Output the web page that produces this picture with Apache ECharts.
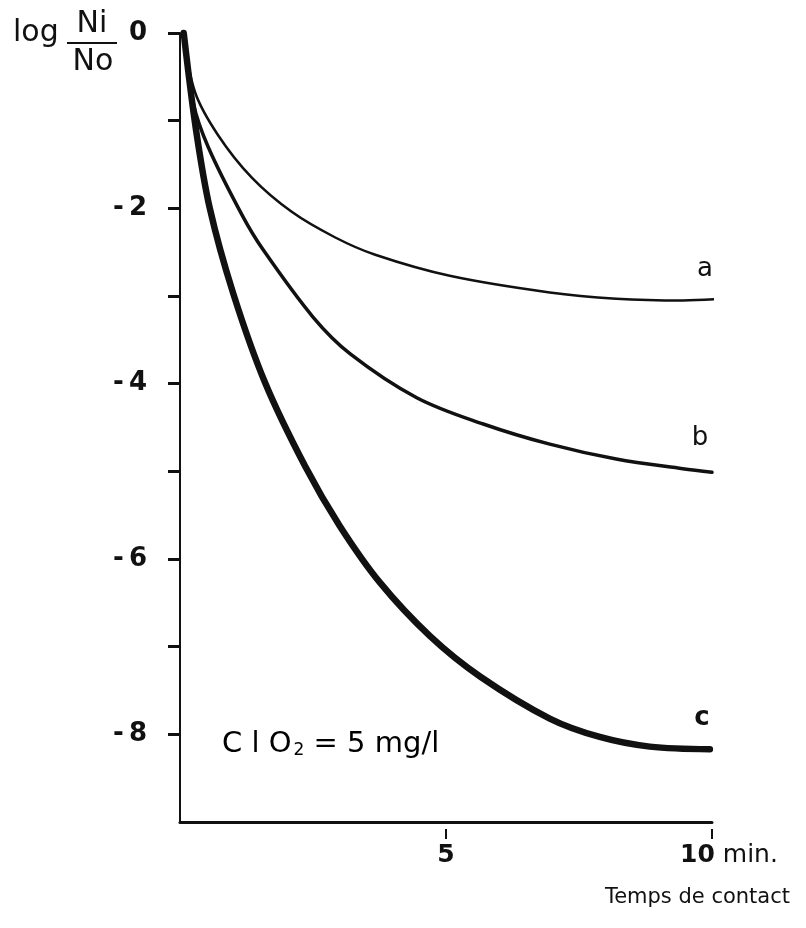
<!DOCTYPE html>
<html><head><meta charset="utf-8">
<script src="https://cdn.jsdelivr.net/npm/echarts@6/dist/echarts.min.js"></script>
<style>html,body{margin:0;padding:0;background:#fff}#c{width:806px;height:928px}</style>
</head><body><div id="c"></div>
<script>
// Contact time (min) and log(Ni/No)
const tA = [0.07, 0.28, 0.71, 1.35, 2.1, 2.91, 3.67, 5.07, 6.95, 8.2, 9.45, 10.28];
const vA = [0, -0.67, -1.16, -1.65, -2.04, -2.33, -2.53, -2.77, -2.96, -3.03, -3.05, -3.03];
const tB = [0.07, 0.25, 0.53, 1.17, 1.56, 2.5, 3.2, 4.45, 5.7, 6.95, 8.2, 9.45, 10.0];
const vB = [0, -0.8, -1.3, -2.08, -2.47, -3.24, -3.66, -4.16, -4.46, -4.69, -4.86, -4.97, -5.01];
const tC = [0.07, 0.3, 0.56, 1.0, 1.6, 2.35, 3.0, 3.76, 4.7, 5.64, 6.95, 7.89, 8.83, 9.96];
const vC = [0, -1.1, -2.0, -2.97, -3.99, -4.94, -5.62, -6.27, -6.88, -7.34, -7.82, -8.03, -8.14, -8.17];
const yTicks = [0, -1, -2, -3, -4, -5, -6, -7, -8];
const yLabels = [0, -2, -4, -6, -8];
const xLabels = [5, 10];
const curveNames = ['a', 'b', 'c'];

const pairs = (t, v) => t.map((x, i) => [x, v[i]]);
const FONT = '"DejaVu Sans", Arial, sans-serif';
const INK = '#111';

const chart = echarts.init(document.getElementById('c'), null, {renderer: 'canvas'});
chart.setOption({
  backgroundColor: '#fff',
  animation: false,
  grid: {left: 180, right: 94, top: 33, bottom: 106, outerBoundsMode: 'none', containLabel: false},
  xAxis: [{
    type: 'value', min: 0, max: 10,
    axisLine: {show: true, onZero: false, lineStyle: {color: INK, width: 3}},
    axisTick: {show: false},
    splitLine: {show: false},
    axisLabel: {
      customValues: xLabels, margin: 21, color: INK,
      formatter: v => v === 10 ? '{p|10}{r| min.}' : '{b|' + v + '}',
      rich: {
        b: {fontFamily: FONT, fontSize: 25, fontWeight: 'bold', color: INK},
        p: {fontFamily: FONT, fontSize: 25, fontWeight: 'bold', color: INK, padding: [0, 0, 0, 34]},
        r: {fontFamily: FONT, fontSize: 25, color: INK}
      }
    }
  }, {
    type: 'value', min: 0, max: 10, position: 'bottom', offset: 7,
    axisLine: {show: false, onZero: false},
    axisTick: {show: true, customValues: xLabels, length: 10, lineStyle: {color: INK, width: 2}},
    axisLabel: {show: false},
    splitLine: {show: false}
  }],
  yAxis: {
    type: 'value', min: -9, max: 0, interval: 1,
    axisLine: {show: true, lineStyle: {color: INK, width: 2}},
    axisTick: {show: true, customValues: yTicks, length: 12, lineStyle: {color: INK, width: 3}},
    splitLine: {show: false},
    axisLabel: {
      customValues: yLabels, margin: 33, color: INK,
      fontFamily: FONT, fontSize: 26, fontWeight: 'bold',
      formatter: v => v === 0 ? '0' : '-\u2009' + (-v)
    }
  },
  series: [
    {name: curveNames[0], type: 'line', data: pairs(tA, vA), smooth: 0.35, symbol: 'none', clip: false,
     lineStyle: {color: INK, width: 2.5, cap: 'round'}},
    {name: curveNames[1], type: 'line', data: pairs(tB, vB), smooth: 0.35, symbol: 'none', clip: false,
     lineStyle: {color: INK, width: 3.5, cap: 'round'}},
    {name: curveNames[2], type: 'line', data: pairs(tC, vC), smooth: 0.35, symbol: 'none', clip: false,
     lineStyle: {color: INK, width: 6.5, cap: 'round'}}
  ],
  graphic: [
    {type: 'text', x: 13, y: 33, style: {text: 'log', font: '30px ' + FONT, fill: INK, verticalAlign: 'middle'}},
    {type: 'text', x: 92, y: 24, style: {text: 'Ni', font: '30px ' + FONT, fill: INK, align: 'center', verticalAlign: 'middle'}},
    {type: 'line', shape: {x1: 67, y1: 43, x2: 117, y2: 43}, style: {stroke: INK, lineWidth: 2}},
    {type: 'text', x: 93, y: 62, style: {text: 'No', font: '30px ' + FONT, fill: INK, align: 'center', verticalAlign: 'middle'}},
    {type: 'text', x: 705, y: 269, style: {text: curveNames[0], font: '26px ' + FONT, fill: INK, align: 'center', verticalAlign: 'middle'}},
    {type: 'text', x: 700, y: 438, style: {text: curveNames[1], font: '26px ' + FONT, fill: INK, align: 'center', verticalAlign: 'middle'}},
    {type: 'text', x: 702, y: 718, style: {text: curveNames[2], font: 'bold 26px ' + FONT, fill: INK, align: 'center', verticalAlign: 'middle'}},
    {type: 'text', x: 222, y: 744, style: {
      text: '{t|C l O}{s|2}{t| = 5 mg/l}', verticalAlign: 'middle',
      rich: {
        t: {fontFamily: FONT, fontSize: 29, color: INK},
        s: {fontFamily: FONT, fontSize: 17, color: INK, padding: [14, 0, 0, 2]}
      }
    }},
    {type: 'text', x: 790, y: 898, style: {text: 'Temps de contact', font: '21px ' + FONT, fill: INK, align: 'right', verticalAlign: 'middle'}}
  ]
});
</script></body></html>
